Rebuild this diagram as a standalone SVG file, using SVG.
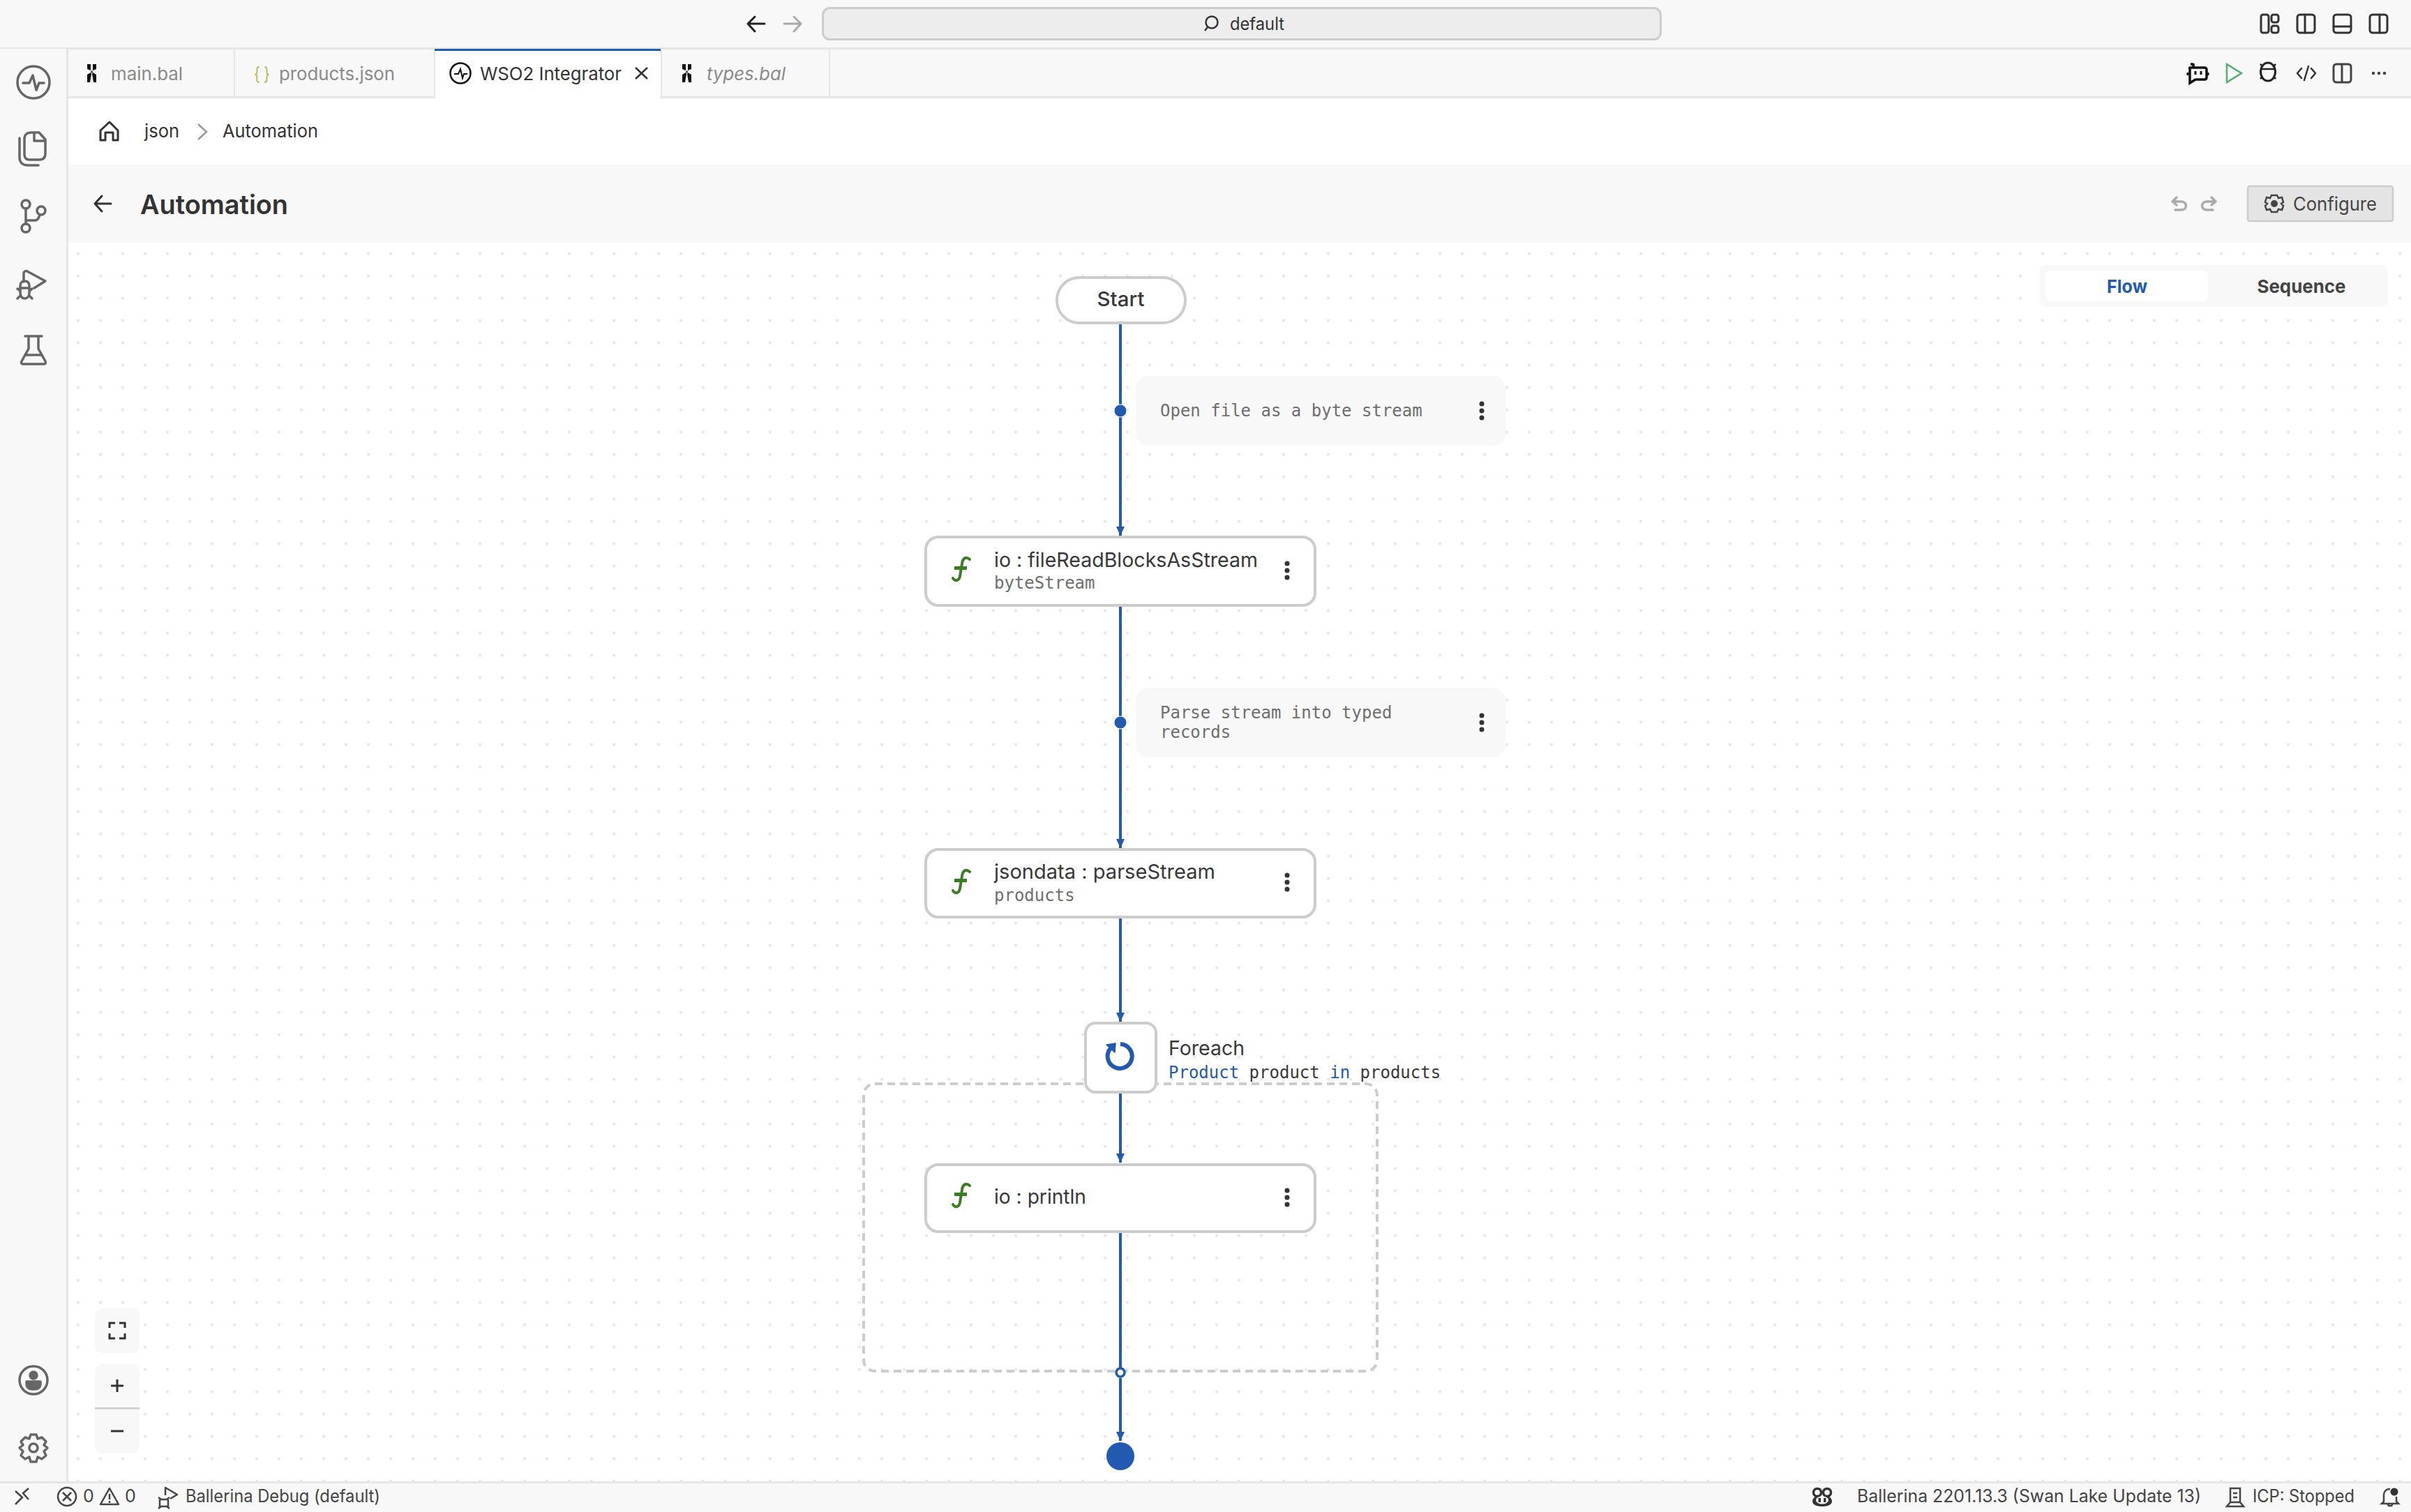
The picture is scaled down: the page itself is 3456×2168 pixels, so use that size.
<svg xmlns="http://www.w3.org/2000/svg" width="3456" height="2168" viewBox="0 0 3456 2168">
<style>
.ui{font-family:"Inter","Liberation Sans",sans-serif}
.mono{font-family:"DejaVu Sans Mono","Liberation Mono",monospace;font-size:24px}
.tab{font-size:26px;fill:#8a8a8a}
.title{font-size:29px;fill:#383838}
.sub{fill:#6e6e6e}
.cmt{fill:#6e6e6e}
.status{font-size:25px;fill:#444}
.node{fill:#fff;stroke:#ccc;stroke-width:4}
.conn{stroke:#215ab0;stroke-width:4;fill:none}
.ic{fill:none;stroke:#666;stroke-width:3.5;stroke-linecap:round;stroke-linejoin:round}
.ic2{fill:none;stroke:#333;stroke-width:3;stroke-linecap:round;stroke-linejoin:round}
.sep{fill:#e6e6e6}
.panel{fill:#f8f8f8}
.blue{fill:#215ab0}
.dark{fill:#383838}
</style>
<defs>
<pattern id="dots" x="0" y="0" width="32" height="32" patternUnits="userSpaceOnUse" patternTransform="translate(8 3.7)">
<rect x="6.2" y="6.2" width="3.600" height="3.600" fill="#e3e8f0"/>
</pattern>
<marker id="arrow" markerUnits="userSpaceOnUse" markerWidth="14" markerHeight="13" refX="13" refY="6.5" orient="auto"><path d="M0 0.5L13 6.5L0 12.5Z" fill="#215ab0"/></marker>
<symbol id="fn" width="30" height="38" viewBox="0 0 30 38" overflow="visible"><path d="M27 4C21 -1 17 3 16 10L13 28C12 35 6 36 3 31" fill="none" stroke="#3a7d22" stroke-width="4" stroke-linecap="round"/><path d="M5 16.500H23" fill="none" stroke="#3a7d22" stroke-width="5"/></symbol>
<symbol id="kebab" width="8" height="28" viewBox="0 0 8 28"><circle cx="4" cy="4" r="3.500" fill="#333"/><circle cx="4" cy="14" r="3.500" fill="#333"/><circle cx="4" cy="24" r="3.500" fill="#333"/></symbol>
<symbol id="bal" width="18" height="26" viewBox="0 0 18 26"><path d="M1 0H6V9L1 7ZM9 0H14V7L9 9ZM1 15L6 12L7 14L5 26H1ZM14 15L9 12L8 14L10 26H14ZM6.500 9.500H8.500V12.500H6.500Z" fill="#111"/></symbol>
</defs>

<g id="chrome">
<rect width="3456" height="2168" fill="#fff"/>
<rect class="panel" width="3456" height="70"/>
<rect class="sep" y="68" width="3456" height="3"/>
<rect class="panel" y="71" width="3456" height="68"/>
<rect class="sep" y="138" width="3456" height="3"/>
<rect class="panel" y="70" width="95" height="2056"/>
<rect class="sep" x="95" y="70" width="3" height="2056"/>
<rect class="panel" x="98" y="236" width="3358" height="112"/>
<rect x="98" y="348" width="3358" height="1777" fill="url(#dots)"/>
<rect class="panel" y="2125" width="3456" height="43"/>
<rect class="sep" y="2124" width="3456" height="3"/>
</g>

<g id="titlebar">
<path class="ic2" style="stroke:#222" d="M1096 34H1073M1082 24L1072 34L1082 45"/>
<path class="ic2" style="stroke:#aaa" d="M1124 34H1147M1138 24L1148 34L1138 45"/>
<rect x="1179.500" y="11.500" width="1201" height="45" rx="10" fill="#ededed" stroke="#ccc" stroke-width="3"/>
<circle cx="1737" cy="32" r="8.500" fill="none" stroke="#333" stroke-width="2.500"/><path d="M1731 39L1727 44" stroke="#333" stroke-width="2.500"/>
<text class="ui" x="1763" y="43" font-size="25" fill="#333" textLength="78" lengthAdjust="spacingAndGlyphs">default</text>
<g class="ic2"><rect x="3241" y="21" width="11" height="26" rx="3"/><rect x="3256" y="21" width="10" height="11" rx="3"/><rect x="3256" y="37" width="10" height="10" rx="3"/>
<rect x="3293" y="21" width="25" height="26" rx="4"/><path d="M3304 21V47"/>
<rect x="3345" y="21" width="25" height="26" rx="4"/><path d="M3345 38H3370"/>
<rect x="3397" y="21" width="25" height="26" rx="4"/><path d="M3411 21V47"/></g>
</g>

<g id="activitybar">
<g class="ic"><circle cx="48" cy="118" r="23"/><path d="M33 119H42L47 108L52 129L56 119H63"/>
<path d="M45 190H56L65 200V220C65 226 62 229 57 229H42C37 229 35 226 35 221V199C35 193 39 190 45 190ZM49 191V202H64"/><path d="M28 198V226C28 233 33 237 40 237H55"/>
<circle cx="37" cy="293" r="6"/><circle cx="37" cy="327" r="6"/><circle cx="59" cy="302" r="6"/><path d="M37 299V321M39 316H50C54 316 56 312 57 308"/>
<path d="M34 404V392C34 389 37 388 39 389L65 403L49 413"/><path d="M29 410C29 405 32 403 35 403C39 403 42 405 42 410V420C42 425 39 428 35 428C32 428 29 425 29 420ZM29 413H42M25 414L29 417M46 414L42 417M25 428L29 424M46 428L42 424"/>
<path d="M36 482H60M41 482V500L31 518C30 521 31 522 34 522H62C65 522 66 521 65 518L55 500V482M36 509H60"/>
<circle cx="48" cy="1979" r="20"/><circle cx="48" cy="1972" r="5" fill="#666"/><path d="M38 1981H58V1984C58 1990 54 1992 48 1992C42 1992 38 1990 38 1984Z" fill="#666"/>
<circle cx="48" cy="2076" r="6"/><path d="M44 2057H52L54 2063L60 2061L66 2067L63 2072L68 2076L63 2081L66 2087L60 2092L54 2089L52 2096H44L42 2089L36 2092L30 2087L33 2081L28 2076L33 2072L30 2067L36 2061L42 2063Z"/></g>
</g>

<g id="tabs">
<rect class="sep" x="335" y="71" width="2" height="67"/>
<rect class="sep" x="622" y="71" width="2" height="70"/>
<rect class="sep" x="947" y="71" width="2" height="70"/>
<rect class="sep" x="1188" y="71" width="2" height="67"/>
<rect x="624" y="71" width="323" height="70" fill="#fff"/>
<rect x="623" y="70" width="324" height="3" fill="#215ab0"/>
<use href="#bal" x="124" y="92"/>
<text class="ui tab" x="159" y="115" textLength="103" lengthAdjust="spacingAndGlyphs">main.bal</text>
<text class="ui" x="364" y="115" font-size="26" fill="#b5b84a" textLength="23" lengthAdjust="spacingAndGlyphs">{ }</text>
<text class="ui tab" x="400" y="115" textLength="166" lengthAdjust="spacingAndGlyphs">products.json</text>
<circle cx="660" cy="105" r="14.500" fill="none" stroke="#111" stroke-width="2.500"/><path d="M651 106H657L660 99L663 112L665 106H670" fill="none" stroke="#111" stroke-width="2"/>
<text class="ui" x="688" y="115" font-size="26" fill="#333" textLength="203" lengthAdjust="spacingAndGlyphs">WSO2 Integrator</text>
<path d="M911 97L928 113M928 97L911 113" stroke="#333" stroke-width="2.500"/>
<use href="#bal" x="977" y="92"/>
<text class="ui tab" x="1013" y="115" font-style="italic" textLength="113" lengthAdjust="spacingAndGlyphs">types.bal</text>
<path d="M3144 91V96M3140 92H3144M3139 97H3160C3162 97 3163 98 3163 100V111C3163 113 3162 114 3160 114H3147L3139 119V100C3139 98 3138 97 3139 97Z" fill="none" stroke="#111" stroke-width="3.500"/><path d="M3136 104V108M3165 104V108M3147 102V107M3155 102V107" stroke="#111" stroke-width="3"/>
<path d="M3192 92L3213 105L3192 118Z" fill="none" stroke="#4fb06f" stroke-width="2.500"/>
<ellipse cx="3251" cy="103" rx="10.500" ry="13" fill="none" stroke="#222" stroke-width="3"/><path d="M3241 99H3261M3240 92L3243 95M3262 92L3259 95M3240 113L3243 110M3262 113L3259 110" stroke="#222" stroke-width="2.500"/>
<path class="ic2" style="stroke-width:2.500" d="M3299 98L3293 105L3299 112M3313 98L3319 105L3313 112M3309 95L3303 115"/>
<rect class="ic2" x="3345" y="92" width="25" height="26" rx="4" style="stroke:#444"/><path d="M3357 92V118" stroke="#444" stroke-width="3"/>
<circle cx="3402" cy="105" r="2.300" fill="#444"/><circle cx="3410" cy="105" r="2.300" fill="#444"/><circle cx="3418" cy="105" r="2.300" fill="#444"/>
</g>

<g id="breadcrumb">
<path d="M144 187L157 175L169 187V201H162V190H151V201H144Z" fill="none" stroke="#333" stroke-width="3" stroke-linejoin="round"/>
<text class="ui" x="207" y="197" font-size="26" fill="#333" textLength="50" lengthAdjust="spacingAndGlyphs">json</text>
<path d="M284 178L296 189L284 200" fill="none" stroke="#999" stroke-width="2.500"/>
<text class="ui" x="319" y="197" font-size="26" fill="#333" textLength="137" lengthAdjust="spacingAndGlyphs">Automation</text>
</g>

<g id="header">
<path class="ic2" d="M159 292H137M146 281L136 292L146 303"/>
<text class="ui" x="201" y="307" font-size="38" font-weight="600" fill="#333" textLength="212" lengthAdjust="spacingAndGlyphs">Automation</text>
<path d="M3120 283L3114 289L3120 294M3114 289H3126C3136 289 3136 301 3126 301H3118" fill="none" stroke="#aaa" stroke-width="3.500" stroke-linecap="round" stroke-linejoin="round"/>
<path d="M3170 283L3176 289L3170 294M3176 289H3164C3154 289 3154 301 3164 301H3172" fill="none" stroke="#aaa" stroke-width="3.500" stroke-linecap="round" stroke-linejoin="round"/>
<rect x="3222" y="267" width="208" height="50" rx="3" fill="#e4e4e4" stroke="#ccc" stroke-width="2.500"/>
<circle cx="3260" cy="292" r="5" fill="#444"/><path d="M3256 280H3264L3266 284L3271 283L3273 290L3270 292L3273 295L3271 301L3266 300L3264 304H3256L3254 300L3249 301L3247 295L3250 292L3247 290L3249 283L3254 284Z" fill="none" stroke="#444" stroke-width="2.500"/>
<text class="ui" x="3287" y="302" font-size="27" fill="#444" textLength="120" lengthAdjust="spacingAndGlyphs">Configure</text>
</g>

<g id="view-toggle">
<rect class="panel" x="2924" y="380" width="499" height="60" rx="10"/>
<rect x="2932" y="388" width="233" height="44" rx="8" fill="#fff"/>
<text class="ui blue" x="3049" y="420" font-size="26" font-weight="700" text-anchor="middle" textLength="58" lengthAdjust="spacingAndGlyphs">Flow</text>
<text class="ui" x="3299" y="420" font-size="26" font-weight="700" fill="#444" text-anchor="middle" textLength="127" lengthAdjust="spacingAndGlyphs">Sequence</text>
</g>

<g id="zoom-controls">
<rect class="panel" x="136" y="1876" width="64" height="64" rx="10"/>
<path d="M157 1904V1897H165M171 1897H179V1904M179 1912V1919H171M165 1919H157V1912" fill="none" stroke="#333" stroke-width="3"/>
<rect class="panel" x="136" y="1956" width="64" height="128" rx="10"/>
<rect x="136" y="2018" width="64" height="2.500" fill="#ccc"/>
<path d="M159 1987H177M168 1978V1996M159 2052H177" stroke="#333" stroke-width="3"/>
</g>

<g id="foreach-frame">
<rect x="1238" y="1554" width="736" height="412" rx="16" fill="none" stroke="#ccc" stroke-width="4" stroke-dasharray="11 7"/>
</g>

<g id="connectors">
<path class="conn" d="M1606 464V768" marker-end="url(#arrow)"/>
<path class="conn" d="M1606 870V1216" marker-end="url(#arrow)"/>
<path class="conn" d="M1606 1317V1465" marker-end="url(#arrow)"/>
<path class="conn" d="M1606 1568V1667" marker-end="url(#arrow)"/>
<path class="conn" d="M1606 1768V1968"/>
<path class="conn" d="M1606 1976V2066" marker-end="url(#arrow)"/>
<circle cx="1606" cy="589" r="9" class="blue" stroke="#fff" stroke-width="1"/>
<circle cx="1606" cy="1036" r="9" class="blue" stroke="#fff" stroke-width="1"/>
<circle cx="1606" cy="1968" r="6" fill="#fff" stroke="#215ab0" stroke-width="3.500"/>
</g>

<g id="node-start">
<rect class="node" x="1515" y="398" width="184" height="65" rx="32"/>
<text class="ui dark" x="1606.500" y="439" font-size="29" font-weight="500" text-anchor="middle" textLength="68" lengthAdjust="spacingAndGlyphs">Start</text>
</g>
<g id="comment-1">
<rect class="panel" x="1628" y="539" width="530" height="100" rx="18"/>
<text class="mono cmt" x="1663" y="597">Open file as a byte stream</text>
<use href="#kebab" x="2120" y="575"/>
</g>
<g id="node-read">
<rect class="node" x="1327" y="770" width="558" height="98" rx="18"/>
<use href="#fn" x="1363" y="798"/>
<text class="ui title" x="1425" y="813" textLength="378" lengthAdjust="spacingAndGlyphs">io : fileReadBlocksAsStream</text>
<text class="mono sub" x="1425" y="844">byteStream</text>
<use href="#kebab" x="1841" y="804"/>
</g>
<g id="comment-2">
<rect class="panel" x="1628" y="986" width="530" height="100" rx="18"/>
<text class="mono cmt" x="1663" y="1030">Parse stream into typed</text>
<text class="mono cmt" x="1663" y="1058">records</text>
<use href="#kebab" x="2120" y="1022"/>
</g>
<g id="node-parse">
<rect class="node" x="1327" y="1218" width="558" height="97" rx="18"/>
<use href="#fn" x="1363" y="1246"/>
<text class="ui title" x="1425" y="1260" textLength="317" lengthAdjust="spacingAndGlyphs">jsondata : parseStream</text>
<text class="mono sub" x="1425" y="1292">products</text>
<use href="#kebab" x="1841" y="1251"/>
</g>
<g id="node-foreach">
<rect class="node" x="1556" y="1467" width="101" height="99" rx="14"/>
<path d="M1606 1497A17.500 17.500 0 1 1 1592 1503" fill="none" stroke="#215ab0" stroke-width="6"/>
<path d="M1586 1498L1599 1496L1598 1509Z" class="blue" stroke="#215ab0" stroke-width="1.500" stroke-linejoin="round"/>
<text class="ui dark" x="1675" y="1513" font-size="29" textLength="109" lengthAdjust="spacingAndGlyphs">Foreach</text>
<text class="mono" x="1675" y="1546" fill="#383838"><tspan class="blue">Product</tspan> product <tspan class="blue">in</tspan> products</text>
</g>
<g id="node-println">
<rect class="node" x="1327" y="1670" width="558" height="96" rx="18"/>
<use href="#fn" x="1363" y="1696"/>
<text class="ui title" x="1425" y="1726" textLength="132" lengthAdjust="spacingAndGlyphs">io : println</text>
<use href="#kebab" x="1841" y="1703"/>
</g>
<g id="node-end">
<circle cx="1606" cy="2088" r="20" class="blue"/>
</g>

<g id="statusbar">
<path d="M22 2157L32 2147L22 2138M41 2134L33 2141L41 2150" fill="none" stroke="#444" stroke-width="2.500"/>
<circle cx="96" cy="2146" r="13" fill="none" stroke="#444" stroke-width="2.500"/><path d="M90 2140L102 2152M102 2140L90 2152" stroke="#444" stroke-width="2.500"/>
<text class="ui status" x="119" y="2154">0</text>
<path d="M157 2134L170 2157H144Z" fill="none" stroke="#444" stroke-width="2.500" stroke-linejoin="round"/><path d="M157 2142V2150M157 2152V2155" stroke="#444" stroke-width="2.500"/>
<text class="ui status" x="179" y="2154">0</text>
<path d="M237 2144V2133L254 2143L244 2149" fill="none" stroke="#444" stroke-width="2.500" stroke-linejoin="round"/><path d="M229 2150H241V2160H229ZM227 2147L231 2150M243 2147L239 2150M227 2163L231 2160M243 2163L239 2160" fill="none" stroke="#444" stroke-width="2.500"/>
<text class="ui status" x="266" y="2154" textLength="279" lengthAdjust="spacingAndGlyphs">Ballerina Debug (default)</text>
<circle cx="2605" cy="2140" r="5.500" fill="#fff" stroke="#333" stroke-width="3.500"/><circle cx="2619" cy="2140" r="5.500" fill="#fff" stroke="#333" stroke-width="3.500"/>
<path d="M2602 2146H2622C2628 2150 2629 2160 2612 2160C2595 2160 2596 2150 2602 2146Z" fill="#333"/><ellipse cx="2612" cy="2151" rx="9" ry="5.500" fill="#fff"/><rect x="2606.500" y="2148" width="3.500" height="6" fill="#333"/><rect x="2614" y="2148" width="3.500" height="6" fill="#333"/>
<text class="ui status" x="2662" y="2154" textLength="493" lengthAdjust="spacingAndGlyphs">Ballerina 2201.13.3 (Swan Lake Update 13)</text>
<path d="M3197 2134H3211V2154H3197ZM3201 2141H3207M3201 2147H3207M3197 2154L3192 2160H3216L3211 2154" fill="none" stroke="#444" stroke-width="2.500"/>
<text class="ui status" x="3229" y="2154" textLength="146" lengthAdjust="spacingAndGlyphs">ICP: Stopped</text>
<path d="M3426 2135C3420 2135 3417 2139 3417 2144V2153L3414 2156H3438L3435 2153V2146M3423 2157C3423 2160 3429 2160 3429 2157" fill="none" stroke="#444" stroke-width="2.500"/><circle cx="3432" cy="2139" r="5.500" fill="#333"/>
</g>
</svg>
